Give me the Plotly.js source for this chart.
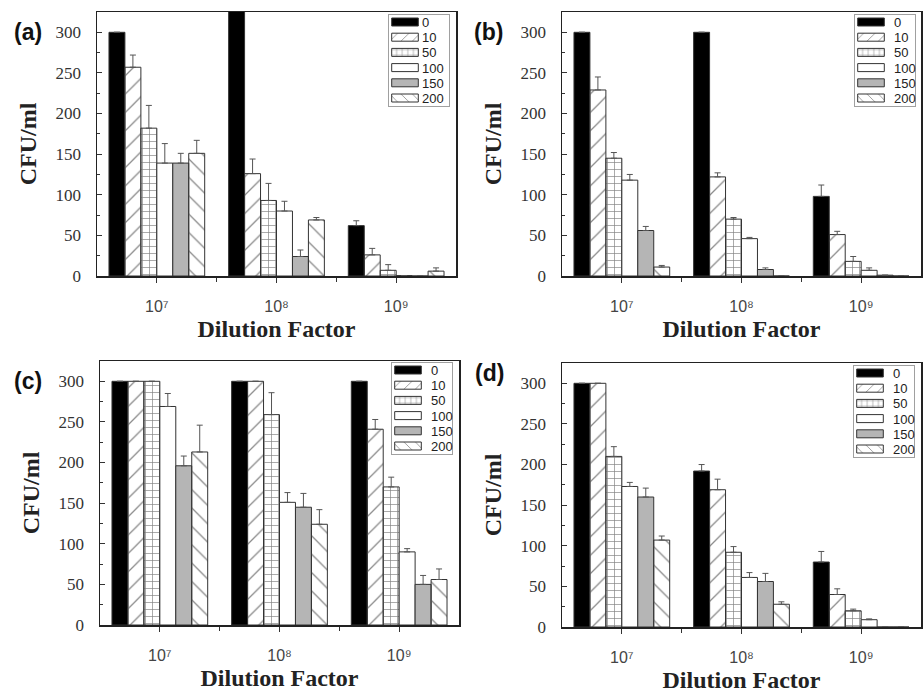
<!DOCTYPE html>
<html><head><meta charset="utf-8">
<script src="https://cdn.plot.ly/plotly-3.0.1.min.js"></script>
<style>html,body{margin:0;padding:0;background:#fff}</style>
</head><body><div id="chart" style="width:923px;height:693px"></div>
<script>
// Categories (x) and series names (legend)
const dilutionLabels = ['10\u2077', '10\u2078', '10\u2079'];
const concentrations = ['0', '10', '50', '100', '150', '200'];
const panelLabels = ['(a)', '(b)', '(c)', '(d)'];
const yTitle = 'CFU/ml';
const xTitle = 'Dilution Factor';

// Mean CFU/ml: one row per concentration, columns = 10^7, 10^8, 10^9
const meanA = [[300, 330, 62], [257, 126, 26], [182, 93, 7], [139, 80, 0.5], [139, 24, 0], [151, 69, 6]];
const errA  = [[null, null, 6], [15, 18, 8], [28, 21, 7], [24, 12, null], [12, 8, null], [16, 3, 4]];

const meanB = [[300, 300, 98], [229, 122, 51], [145, 70, 18], [118, 46, 7], [56, 8, 1], [11, 0, 0]];
const errB  = [[null, null, 14], [16, 5, 4], [7, 2, 6], [7, 1.5, 3], [5, 2, null], [2, null, null]];

const meanC = [[300, 300, 300], [300, 300, 241], [300, 259, 170], [269, 151, 90], [196, 145, 50], [213, 124, 56]];
const errC  = [[null, null, null], [null, null, 12], [null, 27, 12], [16, 12, 4], [12, 17, 11], [33, 18, 13]];

const meanD = [[300, 192, 80], [300, 169, 40], [210, 92, 20], [173, 61, 9], [160, 56, 0], [107, 28, 0]];
const errD  = [[null, 8, 13], [null, 13, 7], [12, 7, 2], [5, 6, 1], [11, 10, null], [5, 3, null]];

const panels = [
  {mean: meanA, err: errA},
  {mean: meanB, err: errB},
  {mean: meanC, err: errC},
  {mean: meanD, err: errD}
];

// Pixel geometry of each plot area: [left, right, top, bottom]
const W = 923, H = 693;
const boxes = [[97, 456, 12, 276], [562, 921, 12, 276], [100, 459, 361, 625], [562, 921, 363, 627]];
const legendBox = [[388, 14], [854, 14], [391, 362], [853, 365]];   // top-left corner, px
const labelPos = [[28, 32], [488, 32], [28, 381], [489, 373]];

const styles = [
  {color: '#000000'},
  {color: '#ffffff', pattern: {shape: '/', fgcolor: '#8a8a8a', size: 13, solidity: 0.1}},
  {color: '#ffffff', pattern: {shape: '+', fgcolor: '#808080', size: 7, solidity: 0.18}},
  {color: '#ffffff'},
  {color: '#b5b5b5'},
  {color: '#ffffff', pattern: {shape: '\\', fgcolor: '#8a8a8a', size: 13, solidity: 0.1}}
];

const xIdx = [0, 1, 2];
const traces = [];
panels.forEach((p, pi) => {
  const sfx = pi === 0 ? '' : String(pi + 1);
  concentrations.forEach((c, si) => {
    const marker = {color: styles[si].color, line: {color: '#333333', width: 1}};
    if (styles[si].pattern) marker.pattern = styles[si].pattern;
    traces.push({
      type: 'bar',
      name: c,
      x: xIdx,
      y: p.mean[si],
      xaxis: 'x' + sfx,
      yaxis: 'y' + sfx,
      legend: 'legend' + sfx,
      marker: marker,
      error_y: {
        type: 'data', symmetric: false, visible: true,
        array: p.err[si], arrayminus: p.err[si].map(() => 0),
        color: '#555555', thickness: 1, width: 3
      },
      hoverinfo: 'name+y'
    });
  });
});

const layout = {
  width: W, height: H,
  margin: {l: 0, r: 0, t: 0, b: 0},
  paper_bgcolor: '#ffffff', plot_bgcolor: '#ffffff',
  barmode: 'group', bargap: 0.2, bargroupgap: 0,
  showlegend: true,
  annotations: []
};

boxes.forEach((b, pi) => {
  const sfx = pi === 0 ? '' : String(pi + 1);
  layout['xaxis' + sfx] = {
    domain: [b[0] / W, b[1] / W],
    anchor: 'y' + sfx,
    range: [-0.5, 2.5],
    tickmode: 'array', tickvals: xIdx, ticktext: dilutionLabels,
    ticks: 'outside', ticklen: 5, tickcolor: '#333', tickwidth: 1,
    minor: {tickmode: 'array', tickvals: [0.5, 1.5], ticks: 'outside', ticklen: 4, tickcolor: '#333'},
    showline: true, linecolor: '#222', linewidth: 1.5, mirror: true,
    showgrid: false, zeroline: false,
    tickfont: {family: 'Liberation Sans, Arial, sans-serif', size: 16, color: '#444'},
    ticklabelstandoff: 10,
    title: {text: xTitle, standoff: 6, font: {family: 'Liberation Serif, Times New Roman, serif', size: 24, color: '#222', weight: 'bold'}},
    fixedrange: true
  };
  layout['yaxis' + sfx] = {
    domain: [1 - b[3] / H, 1 - b[2] / H],
    anchor: 'x' + sfx,
    range: [0, 325],
    tick0: 0, dtick: 50,
    ticks: 'inside', ticklen: 5, tickcolor: '#333', tickwidth: 1,
    minor: {tick0: 0, dtick: 25, ticks: 'inside', ticklen: 3, tickcolor: '#333'},
    showline: true, linecolor: '#222', linewidth: 1.5, mirror: true,
    showgrid: false, zeroline: false,
    tickfont: {family: 'Liberation Serif, Times New Roman, serif', size: 17, color: '#333'},
    ticklabelstandoff: 11,
    title: {text: yTitle, standoff: 12, font: {family: 'Liberation Serif, Times New Roman, serif', size: 24, color: '#222', weight: 'bold'}},
    fixedrange: true
  };
  layout['legend' + sfx] = {
    x: (legendBox[pi][0] + 61) / W, y: 1 - legendBox[pi][1] / H,
    xref: 'paper', yref: 'paper', xanchor: 'right', yanchor: 'top',
    bgcolor: '#ffffff', bordercolor: '#a0a0a0', borderwidth: 1,
    font: {family: 'Liberation Sans, Arial, sans-serif', size: 13, color: '#222'},
    itemwidth: 30, tracegroupgap: 0, traceorder: 'normal'
  };
  layout.annotations.push({
    text: panelLabels[pi], xref: 'paper', yref: 'paper',
    x: labelPos[pi][0] / W, y: 1 - labelPos[pi][1] / H,
    xanchor: 'center', yanchor: 'middle', showarrow: false,
    font: {family: 'Liberation Sans, Arial, sans-serif', size: 23, color: '#111', weight: 'bold'}
  });
});

// Compact the legends to the reference's look: wide flat swatches, tight rows.
function compactLegends(gd) {
  const rowH = 15.2, padTop = 8, boxW = 61;
  ['legend', 'legend2', 'legend3', 'legend4'].forEach((id, li) => {
    const g = gd.querySelector('g.' + id);
    if (!g) return;
    g.querySelectorAll('g.groups').forEach(gr => gr.setAttribute('transform', 'translate(0,0)'));
    const sb = g.querySelector('g.scrollbox');
    if (sb) sb.setAttribute('transform', 'translate(0,0)');
    const items = g.querySelectorAll('g.traces');
    items.forEach((it, i) => {
      it.setAttribute('transform', 'translate(0,' + (padTop + i * rowH) + ')');
      it.querySelectorAll('.legendpoints path').forEach(p => {
        p.setAttribute('d', 'M13.3,4H-13.3V-4H13.3Z');
        p.setAttribute('transform', 'translate(17,0)');
      });
      const t = it.querySelector('text.legendtext');
      if (t) t.setAttribute('x', 34);
    });
    const h = padTop * 2 + (items.length - 1) * rowH;
    const bg = g.querySelector('rect.bg');
    if (bg) {
      bg.setAttribute('x', 0.5); bg.setAttribute('y', 0.5);
      bg.setAttribute('width', boxW); bg.setAttribute('height', h);
    }
    g.setAttribute('transform', 'translate(' + legendBox[li][0] + ',' + legendBox[li][1] + ')');
  });
}

Plotly.newPlot('chart', traces, layout, {displayModeBar: false, staticPlot: true}).then(compactLegends);
</script>
</body></html>
